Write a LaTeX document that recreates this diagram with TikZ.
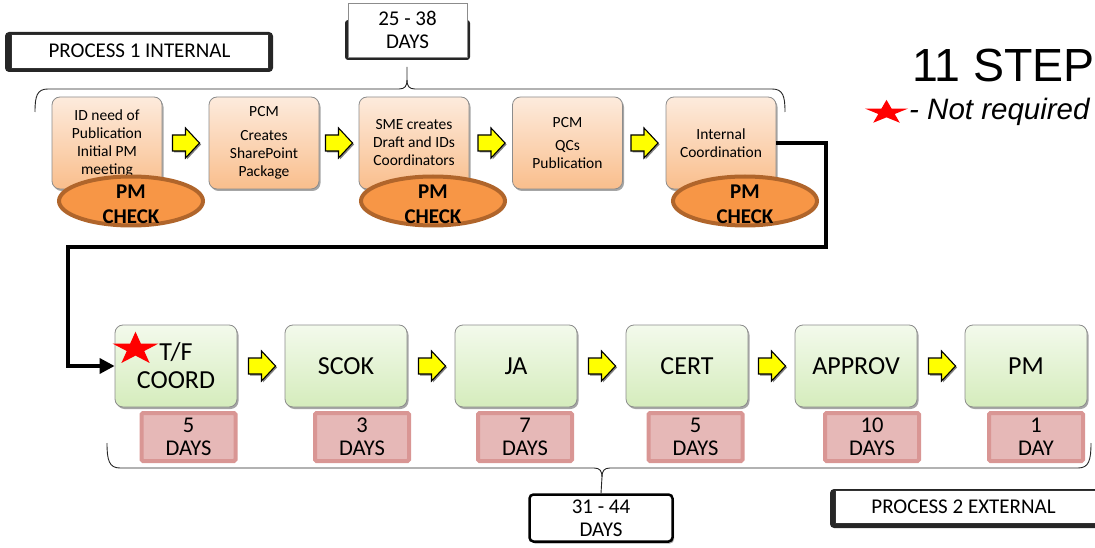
\documentclass[tikz,border=0pt]{standalone}
\usepackage{fontspec}
\setmainfont{Carlito}
\newfontfamily\arialfont{Liberation Sans}
\usetikzlibrary{shapes.geometric,shadows,arrows.meta}

\definecolor{peachtop}{HTML}{FDEBDD}
\definecolor{peachbot}{HTML}{F9BE8C}
\definecolor{greentop}{HTML}{F3FAEC}
\definecolor{greenbot}{HTML}{D5ECBC}
\definecolor{checkfill}{HTML}{F79646}
\definecolor{checkedge}{HTML}{B0652B}
\definecolor{dayfill}{HTML}{E6B8B7}
\definecolor{dayedge}{HTML}{D99694}
\definecolor{stepedge}{HTML}{8C8C8C}
\definecolor{arrowyellow}{HTML}{FFFF00}

% five-pointed red star: centre x, centre y, outer radius, vertical squeeze
\newcommand\redstar[4]{%
  \fill[red,shift={(#1,#2)},yscale=#4]
    (-90:#3) \foreach \k in {1,...,9}{
      -- ({-90+36*\k}:{(1-0.618*mod(\k,2))*#3})
    } -- cycle;}

% yellow block arrow centred on a named coordinate: name, x, y
\newcommand\blockarrow[3]{%
  \coordinate (#1) at (#2,#3);
  \filldraw[flowarrow] (#1) ++(-13.5,-8) -- ++(13,0) -- ++(0,-7) -- ++(14,15)
    -- ++(-14,15) -- ++(0,-7) -- ++(-13,0) -- cycle;}

\begin{document}
\begin{tikzpicture}[x=1pt,y=-1pt,
  softshadow/.style={drop shadow={shadow xshift=1.5pt,shadow yshift=-2pt,opacity=0.35,fill=black}},
  internalstep/.style={rounded corners=8pt,draw=stepedge,line width=0.8pt,
    top color=peachtop,bottom color=peachbot,minimum width=110pt,minimum height=92pt,
    align=center,inner sep=2pt,font=\fontsize{15.5}{18}\selectfont,softshadow},
  externalstep/.style={rounded corners=8pt,draw=stepedge,line width=0.8pt,
    top color=greentop,bottom color=greenbot,minimum width=122pt,minimum height=82pt,
    align=center,inner sep=2pt,font=\fontsize{26}{28}\selectfont,softshadow},
  pmcheck/.style={ellipse,fill=checkfill,draw=checkedge,line width=4pt,
    minimum width=144pt,minimum height=49pt,inner sep=0pt,align=center,
    font=\bfseries\fontsize{21}{25}\selectfont},
  duration/.style={fill=dayfill,draw=dayedge,line width=4pt,rounded corners=1.5pt,
    minimum width=94pt,minimum height=48pt,inner sep=0pt,align=center,
    font=\fontsize{22.5}{23}\selectfont},
  flowarrow/.style={fill=arrowyellow,draw=black,line width=1.1pt,line join=miter,
    drop shadow={shadow xshift=1.5pt,shadow yshift=-1.5pt,opacity=0.5,fill=black}},
  totalbox/.style={fill=white,align=center,inner sep=0pt,font=\fontsize{21}{23}\selectfont},
  label/.style={fill=white,align=center,inner sep=0pt,font=\fontsize{21}{23}\selectfont},
  bracket/.style={draw=black!85,line width=0.9pt},
  link/.style={draw=black,line width=3.5pt,line join=miter},
]
\useasboundingbox (0,0) rectangle (1095,548);
\clip (0,0) rectangle (1095,548);

% ---- process 1 title and total ----
\fill[black!85,rounded corners=4pt] (5,32) rectangle (273,72);
\node[label,draw=black!80,line width=0.8pt,minimum width=257pt,minimum height=34pt]
  (p1title) at (139.5,51) {PROCESS 1 INTERNAL};

\fill[black!85,rounded corners=3pt] (345,20) rectangle (470,60);
\node[totalbox,draw=black!45,line width=0.6pt,minimum width=119pt,minimum height=54pt]
  (p1total) at (407.5,30) {25 - 38\\DAYS};

% brace over the internal steps
\draw[bracket] (35,112) .. controls (35,96) and (37,89) .. (48,89) -- (399,89)
  .. controls (405,89) and (407,86) .. (407,80) -- (407,67);
\draw[bracket] (407,80) .. controls (407,86) and (409,89) .. (415,89) -- (772,89)
  .. controls (783,89) and (785,96) .. (785,112);

% ---- internal steps ----
\node[internalstep] (s1) at (107,143) {ID need of\\Publication\\Initial PM\\meeting};
\node[internalstep] (s2) at (264,143) {PCM\\[6pt]Creates\\SharePoint\\Package};
\node[internalstep] (s3) at (414,143) {SME creates\\Draft and IDs\\Coordinators};
\node[internalstep] (s4) at (567.5,143) {PCM\\[5pt]QCs\\Publication};
\node[internalstep] (s5) at (721,143) {Internal\\Coordination};

\blockarrow{a1}{186}{143}
\blockarrow{a2}{339}{143}
\blockarrow{a3}{491.5}{143}
\blockarrow{a4}{644.5}{143}

% connector from the last internal step to the first external step
\coordinate (turnA) at (826,247);
\coordinate (turnB) at (68,247);

% ---- external steps ----
\node[externalstep] (e1) at (176,366) {T/F\\COORD};
\node[externalstep] (e2) at (346,366) {SCOK};
\node[externalstep] (e3) at (516,366) {JA};
\node[externalstep] (e4) at (687,366) {CERT};
\node[externalstep] (e5) at (856,366) {APPROV};
\node[externalstep] (e6) at (1026,366) {PM};

\draw[link,-{Triangle[length=15pt,width=15pt]}]
  (s5.east) -| (turnA) -- (turnB) |- (e1.west);

\node[pmcheck] (c1) at (131,201) {};
\node[pmcheck] (c3) at (433,201) {};
\node[pmcheck] (c5) at (745,201) {};
\foreach \c in {c1,c3,c5}
  \node[align=center,inner sep=0pt,font=\bfseries\fontsize{21}{25}\selectfont]
    at ([yshift=-3.5pt]\c.center) {PM\\CHECK};

\blockarrow{b1}{262}{366}
\blockarrow{b2}{432}{366}
\blockarrow{b3}{602}{366}
\blockarrow{b4}{772}{366}
\blockarrow{b5}{942}{366}

\redstar{135.5}{349}{24}{0.72}

\node[duration] (d1) at (188.5,437) {5\\DAYS};
\node[duration] (d2) at (362,437) {3\\DAYS};
\node[duration] (d3) at (525,437) {7\\DAYS};
\node[duration] (d4) at (695.5,437) {5\\DAYS};
\node[duration] (d5) at (872,437) {10\\DAYS};
\node[duration] (d6) at (1036,437) {1\\DAY};

% ---- process 2 total and title ----
\node[totalbox,draw=black,line width=2.5pt,rounded corners=4pt,
  minimum width=143pt,minimum height=47pt,softshadow] (p2total) at (601,518) {31 - 44\\DAYS};

\draw[bracket] (107,443) .. controls (107,460) and (109,468) .. (120,468) -- (594,468)
  .. controls (600,468) and (602,471) .. (602,477) -- (p2total.north);
\draw[bracket] (602,477) .. controls (602,471) and (604,468) .. (610,468) -- (1078,468)
  .. controls (1089,468) and (1091,460) .. (1091,443);

\fill[black!85,rounded corners=4pt] (830,489) rectangle (1120,528);
\node[label,draw=black!80,line width=0.8pt,minimum width=280pt,minimum height=33pt,
  anchor=west] (p2title) at (835,507) {};
\node[inner sep=0pt,font=\fontsize{21}{23}\selectfont] (p2text) at (963.5,507) {PROCESS 2 EXTERNAL};

% ---- heading and legend ----
\node[anchor=base west,inner sep=0pt,font=\arialfont\fontsize{46.5}{50}\selectfont]
  (heading) at (912,82) {11 STEP};
\redstar{886.5}{112.5}{22.6}{0.56}
\node[anchor=base west,inner sep=0pt,font=\arialfont\itshape\fontsize{29.5}{30}\selectfont]
  (legend) at (909,120) {- Not required};
\end{tikzpicture}
\end{document}
